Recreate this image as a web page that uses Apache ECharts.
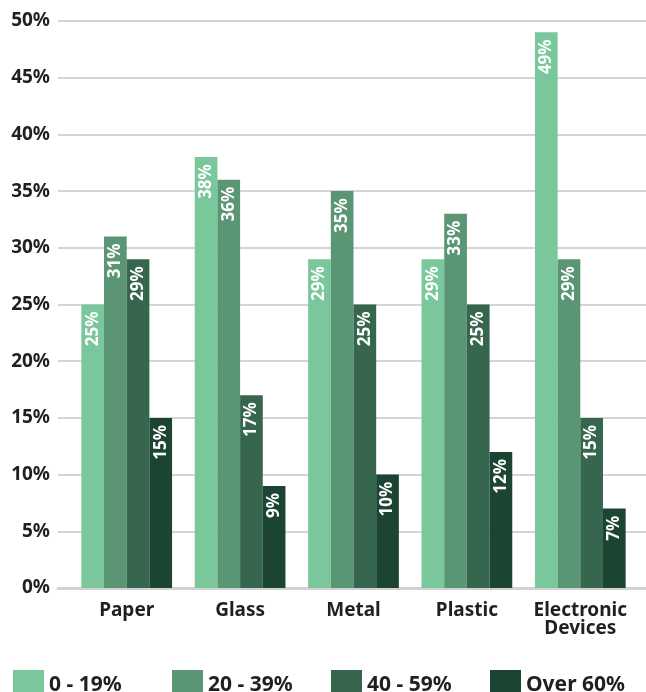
<!DOCTYPE html>
<html>
<head>
<meta charset="utf-8">
<script src="https://cdn.jsdelivr.net/npm/echarts@6/dist/echarts.min.js"></script>
<style>html,body{margin:0;padding:0;background:#fff}#c{width:646px;height:692px}</style>
</head>
<body>
<div id="c"></div>
<script>
const categories = ['Paper', 'Glass', 'Metal', 'Plastic', 'Electronic\nDevices'];
const seriesNames = ['0 - 19%', '20 - 39%', '40 - 59%', 'Over 60%'];
const age0to19 = [25, 38, 29, 29, 49];
const age20to39 = [31, 36, 35, 33, 29];
const age40to59 = [29, 17, 25, 25, 15];
const age60plus = [15, 9, 10, 12, 7];
const yTicks = [0, 5, 10, 15, 20, 25, 30, 35, 40, 45, 50];

const colors = ['#79c79a', '#5a9674', '#36664e', '#1b4532'];
const FONT = 'Noto Sans';
const values = [age0to19, age20to39, age40to59, age60plus];
const legendLefts = [8, 167, 326, 485];

const chart = echarts.init(document.getElementById('c'), null, {renderer: 'canvas'});
const option = {
  animation: false,
  textStyle: {fontFamily: FONT},
  grid: [
    {left: 58, right: 0, top: 21, bottom: 104},
    {left: 70, right: 9, top: 21, bottom: 104}
  ],
  xAxis: [
    {gridIndex: 0, type: 'category', data: categories,
     axisLine: {show: true, lineStyle: {color: '#d2d2d2', width: 3}},
     axisTick: {show: false}, axisLabel: {show: false}},
    {gridIndex: 1, type: 'category', data: categories,
     axisLine: {show: false}, axisTick: {show: false},
     axisLabel: {interval: 0, margin: 14, fontFamily: FONT, fontWeight: 'bold', fontSize: 19, color: '#231f20', lineHeight: 18}}
  ],
  yAxis: [
    {gridIndex: 0, type: 'value', min: yTicks[0], max: yTicks[yTicks.length - 1], interval: 5,
     axisLine: {show: false}, axisTick: {show: false},
     splitLine: {show: true, lineStyle: {color: '#d5d5d5', width: 2}},
     axisLabel: {margin: 8, formatter: '{value}%', fontFamily: FONT, fontWeight: 'bold', fontSize: 19, color: '#231f20'}},
    {gridIndex: 1, type: 'value', min: yTicks[0], max: yTicks[yTicks.length - 1], interval: 5,
     show: false, splitLine: {show: false}}
  ],
  legend: seriesNames.map((name, i) => ({
    left: legendLefts[i], top: 665, itemWidth: 31, itemHeight: 31, itemGap: 0, icon: 'rect',
    data: [name],
    textStyle: {fontFamily: FONT, fontWeight: 'bold', fontSize: 21, color: '#231f20'}
  })),
  series: seriesNames.map((name, i) => ({
    name: name, type: 'bar', xAxisIndex: 1, yAxisIndex: 1,
    data: values[i],
    barGap: 0, barCategoryGap: '20%',
    itemStyle: {color: colors[i]},
    label: {show: true, position: 'insideTop', rotate: 90, align: 'right', verticalAlign: 'middle',
            distance: 7, formatter: '{c}%', color: '#ffffff', fontFamily: FONT, fontWeight: 'bold', fontSize: 17}
  }))
};
chart.setOption(option);
</script>
</body>
</html>
